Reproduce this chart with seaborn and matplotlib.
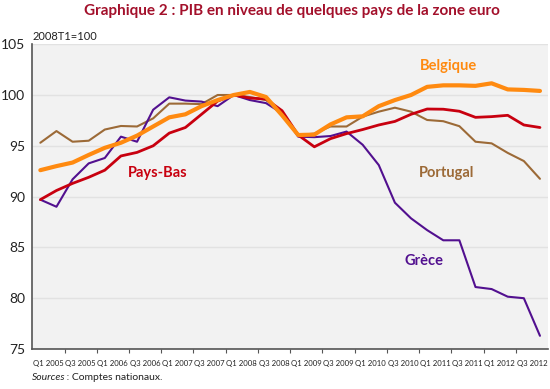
import pandas as pd
import numpy as np
import matplotlib
matplotlib.use("Agg")
import matplotlib.pyplot as plt
import seaborn as sns

# quarters Q1 2005 .. Q4 2012
quarters = [f"Q{q} {y}" for y in range(2005, 2013) for q in range(1, 5)]
tick_labels = [f"Q{q} {y}" for y in range(2005, 2013) for q in (1, 3)]

belgique = [92.6, 93.0, 93.35, 94.1, 94.8, 95.3, 96.0, 96.9, 97.8, 98.1, 98.9, 99.5,
            100.0, 100.3, 99.8, 98.0, 96.06, 96.1, 97.1, 97.8, 97.9, 98.9, 99.5, 100.0,
            100.8, 100.95, 100.95, 100.9, 101.15, 100.55, 100.5, 100.4]
pays_bas = [89.7, 90.6, 91.3, 91.9, 92.6, 94.0, 94.35, 95.0, 96.25, 96.8, 98.1, 99.4,
            100.0, 99.7, 99.6, 98.45, 96.06, 94.9, 95.7, 96.2, 96.6, 97.05, 97.4, 98.1,
            98.62, 98.6, 98.4, 97.8, 97.87, 98.0, 97.05, 96.8]
portugal = [95.3, 96.45, 95.4, 95.5, 96.6, 96.95, 96.9, 97.7, 99.15, 99.15, 99.1, 100.0,
            100.0, 99.8, 99.5, 98.3, 96.06, 96.2, 96.9, 96.9, 97.87, 98.36, 98.75, 98.36,
            97.54, 97.42, 96.93, 95.4, 95.24, 94.3, 93.5, 91.75]
grece = [89.7, 89.0, 91.7, 93.27, 93.8, 95.9, 95.4, 98.55, 99.77, 99.45, 99.35, 98.9,
         100.0, 99.5, 99.2, 98.2, 95.9, 95.85, 95.96, 96.4, 95.1, 93.1, 89.4, 87.86,
         86.7, 85.7, 85.7, 81.1, 80.9, 80.15, 80.0, 76.3]

series = {"Portugal": portugal, "Grèce": grece, "Pays-Bas": pays_bas, "Belgique": belgique}
colors = {"Belgique": "#FF8A10", "Pays-Bas": "#C8000F", "Portugal": "#9C6A37", "Grèce": "#52108F"}
widths = {"Belgique": 3.0, "Pays-Bas": 2.0, "Portugal": 1.5, "Grèce": 1.5}
# label positions (quarter index, value)
label_pos = {"Belgique": (25.3, 102.85), "Pays-Bas": (7.3, 92.35),
             "Portugal": (25.2, 92.3), "Grèce": (23.8, 83.7)}

df = pd.DataFrame({"t": np.arange(len(quarters))})
for name, vals in series.items():
    df[name] = vals
long_df = df.melt(id_vars="t", var_name="pays", value_name="pib")

sns.set_theme(style="whitegrid", rc={
    "axes.facecolor": "#F2F2F2",
    "grid.color": "#E2E2E2",
    "grid.linewidth": 1.0,
    "axes.edgecolor": "#555555",
})
plt.rcParams["font.family"] = ["Lato", "DejaVu Sans"]

fig = plt.figure(figsize=(5.5, 3.89), dpi=100)
ax = fig.add_axes([0.0587, 0.1028, 0.9377, 0.7836])

for name in series:
    sub = long_df[long_df["pays"] == name]
    sns.lineplot(data=sub, x="t", y="pib", ax=ax, color=colors[name],
                 linewidth=widths[name], legend=False)
    lx, ly = label_pos[name]
    ax.text(lx, ly, name, color=colors[name], fontsize=10.5, fontweight="bold",
            ha="center", va="center")

ax.set_xlim(-0.5, 31.5)
ax.set_ylim(75, 105)
ax.set_yticks(np.arange(75, 106, 5))
ax.set_yticklabels([str(v) for v in range(75, 106, 5)], fontsize=10, color="#222222")
ax.tick_params(axis="y", length=0, pad=5)

# ticks at boundaries, labels between them
ax.set_xticks(np.arange(1.5, 31, 2))
ax.set_xticklabels([])
ax.set_xticks(np.arange(0.5, 32, 2), minor=True)
ax.set_xticklabels(tick_labels, minor=True, fontsize=5.6, color="#222222")
ax.tick_params(axis="x", which="major", length=3, width=0.8, color="#555555", direction="out", bottom=True)
ax.tick_params(axis="x", which="minor", length=0, pad=8)
ax.xaxis.grid(False)
ax.set_xlabel("")
ax.set_ylabel("")

for s in ["top", "right"]:
    ax.spines[s].set_visible(False)
ax.spines["left"].set_linewidth(1.2)
ax.spines["bottom"].set_linewidth(1.2)
ax.spines["left"].set_color("#555555")
ax.spines["bottom"].set_color("#555555")

fig.text(0.53, 0.972, "Graphique 2 : PIB en niveau de quelques pays de la zone euro",
         ha="center", va="center", fontsize=11, fontweight="bold", color="#A3102B")
fig.text(0.06, 0.905, "2008T1=100", ha="left", va="center", fontsize=8, color="#222222")
fig.text(0.058, 0.03, "Sources", ha="left", va="center", fontsize=7.5, style="italic", color="#222222")
fig.text(0.116, 0.03, " : Comptes nationaux.", ha="left", va="center", fontsize=7.5, color="#222222")

fig.savefig("out.png", dpi=100)
